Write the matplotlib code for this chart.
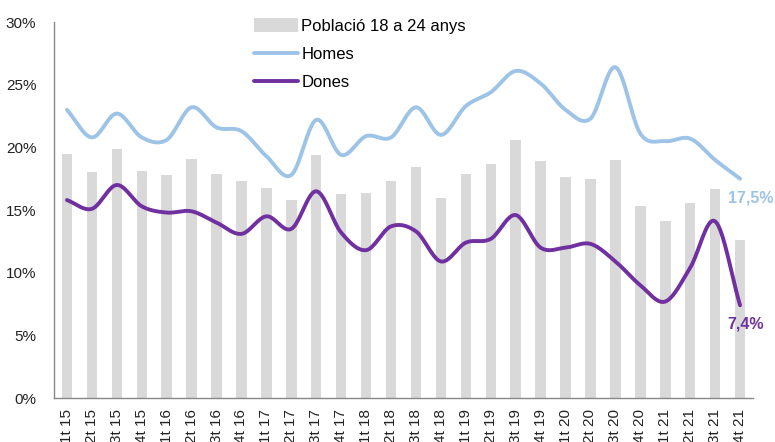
import numpy as np
import matplotlib.pyplot as plt
from matplotlib.ticker import FuncFormatter

plt.rcParams['font.family'] = ['Liberation Sans', 'DejaVu Sans']

quarters = ['1t 15', '2t 15', '3t 15', '4t 15', '1t 16', '2t 16', '3t 16', '4t 16',
            '1t 17', '2t 17', '3t 17', '4t 17', '1t 18', '2t 18', '3t 18', '4t 18',
            '1t 19', '2t 19', '3t 19', '4t 19', '1t 20', '2t 20', '3t 20', '4t 20',
            '1t 21', '2t 21', '3t 21', '4t 21']

poblacio = [19.5, 18.0, 19.9, 18.1, 17.8, 19.1, 17.9, 17.3, 16.8, 15.8, 19.4, 16.3,
            16.4, 17.3, 18.4, 16.0, 17.9, 18.7, 20.6, 18.9, 17.6, 17.5, 19.0, 15.3,
            14.1, 15.6, 16.7, 12.6]

homes = [23.0, 20.8, 22.7, 20.8, 20.6, 23.2, 21.6, 21.3, 19.3, 17.8, 22.2, 19.4,
         20.9, 20.8, 23.2, 21.0, 23.3, 24.4, 26.1, 25.1, 23.0, 22.3, 26.4, 21.1,
         20.5, 20.7, 19.0, 17.5]

dones = [15.8, 15.1, 17.0, 15.3, 14.8, 14.9, 14.0, 13.1, 14.5, 13.5, 16.5, 13.2,
         11.8, 13.7, 13.3, 10.9, 12.4, 12.7, 14.6, 12.0, 12.0, 12.3, 10.9, 9.0,
         7.7, 10.4, 14.1, 7.4]


def smooth(y, n=20):
    # Catmull-Rom path through the points, like Excel's smoothed line
    y = np.asarray(y, dtype=float)
    x = np.arange(len(y), dtype=float)
    px = np.concatenate([[2 * x[0] - x[1]], x, [2 * x[-1] - x[-2]]])
    py = np.concatenate([[2 * y[0] - y[1]], y, [2 * y[-1] - y[-2]]])
    xs, ys = [], []
    t = np.linspace(0, 1, n, endpoint=False)
    for i in range(1, len(px) - 2):
        for arr, out in ((px, xs), (py, ys)):
            p0, p1, p2, p3 = arr[i - 1], arr[i], arr[i + 1], arr[i + 2]
            out.extend(0.5 * ((2 * p1) + (-p0 + p2) * t +
                              (2 * p0 - 5 * p1 + 4 * p2 - p3) * t ** 2 +
                              (-p0 + 3 * p1 - 3 * p2 + p3) * t ** 3))
    xs.append(x[-1])
    ys.append(y[-1])
    return np.array(xs), np.array(ys)


fig = plt.figure(figsize=(7.75, 4.42), dpi=100)
ax = fig.add_axes([0.0703, 0.0995, 0.9007, 0.8505])

x = np.arange(len(quarters))
bars = ax.bar(x, poblacio, width=0.42, color='#d9d9d9', label='Població 18 a 24 anys', zorder=1)
hx, hy = smooth(homes)
lh, = ax.plot(hx, hy, color='#9dc3e6', lw=2.8, solid_capstyle='round', label='Homes', zorder=3)
dx, dy = smooth(dones)
ld, = ax.plot(dx, dy, color='#7030a0', lw=2.8, solid_capstyle='round', label='Dones', zorder=4)

ax.text(x[-1] - 0.5, homes[-1] - 0.9, '17,5%', color='#9dc3e6', fontsize=11.5,
        fontweight='bold', va='top', ha='left')
ax.text(x[-1] - 0.5, dones[-1] - 0.9, '7,4%', color='#7030a0', fontsize=11.5,
        fontweight='bold', va='top', ha='left')

ax.set_xlim(-0.5, len(quarters) - 0.5)
ax.set_ylim(0, 30)
ax.set_yticks(range(0, 31, 5))
ax.yaxis.set_major_formatter(FuncFormatter(lambda v, p: f'{v:.0f}%'))
ax.set_xticks(x)
ax.set_xticklabels(quarters, rotation=90)
ax.tick_params(axis='both', length=0, labelsize=11, colors='#222222')
ax.tick_params(axis='y', pad=13)
ax.tick_params(axis='x', pad=8)

for s in ['top', 'right']:
    ax.spines[s].set_visible(False)
for s in ['left', 'bottom']:
    ax.spines[s].set_color('#888888')
    ax.spines[s].set_linewidth(1)

ax.legend(handles=[bars, lh, ld], loc='upper left', bbox_to_anchor=(0.265, 1.05),
          frameon=False, fontsize=12, handlelength=2.6, handleheight=0.9,
          handletextpad=0.2, labelspacing=0.75)

plt.savefig('out.png', dpi=100)
